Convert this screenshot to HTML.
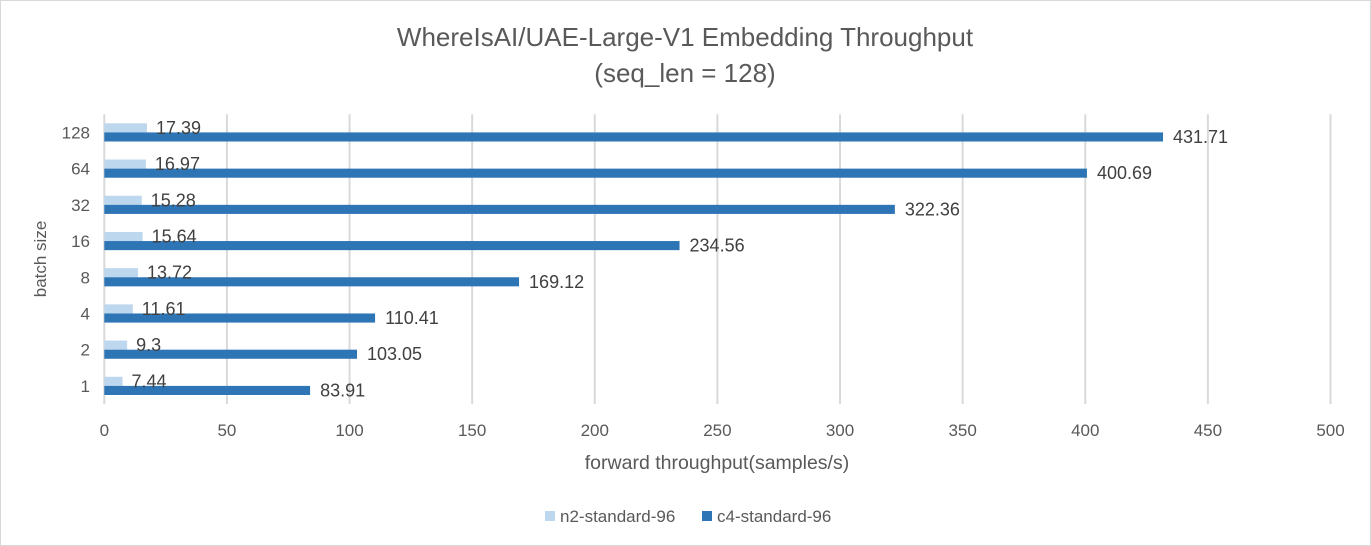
<!DOCTYPE html>
<html><head><meta charset="utf-8"><style>
html,body{margin:0;padding:0;background:#fff}
svg{display:block;font-family:"Liberation Sans",Calibri,sans-serif}
</style></head><body>
<svg id="chart" width="1371" height="546" xmlns="http://www.w3.org/2000/svg">
<rect x="0.5" y="0.5" width="1370" height="545" fill="#fff" stroke="#d9d9d9"/>
<text x="685" y="46" text-anchor="middle" font-size="26" fill="#595959">WhereIsAI/UAE-Large-V1 Embedding Throughput</text>
<text x="685" y="82" text-anchor="middle" font-size="26" fill="#595959">(seq_len = 128)</text>
<g id="grid"></g>
<g id="bars"></g>
<g id="labels"></g>
<text x="717" y="469" text-anchor="middle" font-size="19.5" fill="#595959">forward throughput(samples/s)</text>
<text transform="translate(46,259) rotate(-90)" text-anchor="middle" font-size="17" fill="#595959">batch size</text>
<g>
<rect x="545" y="511" width="10" height="10" fill="#bdd7ee"/>
<text x="560" y="522" font-size="17" fill="#595959">n2-standard-96</text>
<rect x="702" y="511" width="10" height="10" fill="#2e75b6"/>
<text x="717" y="522" font-size="17" fill="#595959">c4-standard-96</text>
</g>
</svg>
<script>
const categories=["1","2","4","8","16","32","64","128"];
const n2Values=[7.44,9.3,11.61,13.72,15.64,15.28,16.97,17.39];
const c4Values=[83.91,103.05,110.41,169.12,234.56,322.36,400.69,431.71];
const xTicks=[0,50,100,150,200,250,300,350,400,450,500];
const NS="http://www.w3.org/2000/svg";
const x0=104.3,x1=1330.5,yTop=114.3,yBottom=404,xMax=500;
const xs=v=>x0+(v/xMax)*(x1-x0);
const band=(yBottom-yTop)/categories.length;
const bandTop=i=>yTop+(categories.length-1-i)*band;
function mk(tag,attrs,parent){const e=document.createElementNS(NS,tag);for(const k in attrs)e.setAttribute(k,attrs[k]);parent.appendChild(e);return e;}
const grid=document.getElementById('grid'),bars=document.getElementById('bars'),labels=document.getElementById('labels');
xTicks.forEach(t=>{
 const l=mk('line',{x1:xs(t),x2:xs(t),y1:yTop,y2:yBottom,stroke:'#d9d9d9','stroke-width':2},grid);
 
 
 const tx=mk('text',{x:xs(t),y:436,'text-anchor':'middle','font-size':17,fill:'#595959'},grid);
 tx.textContent=t;
 
 
});
const bh=9.1;
categories.forEach((c,i)=>{
 const bt=bandTop(i),cy=bt+band/2;
 const yl=mk('text',{x:90,y:cy+6,'text-anchor':'end','font-size':17,fill:'#595959'},labels);
 yl.textContent=c;
 
 
 const r1=mk('rect',{x:x0,y:cy-bh,width:xs(n2Values[i])-x0,height:bh,fill:'#bdd7ee'},bars);
 
 
 const r2=mk('rect',{x:x0,y:cy,width:xs(c4Values[i])-x0,height:bh,fill:'#2e75b6'},bars);
 
 
 const t1=mk('text',{x:xs(n2Values[i])+9,y:cy-bh/2+6,'font-size':18,fill:'#404040'},labels);
 t1.textContent=n2Values[i];
 
 
 const t2=mk('text',{x:xs(c4Values[i])+10,y:cy+bh/2+6,'font-size':18,fill:'#404040'},labels);
 t2.textContent=c4Values[i];
 
 
});
</script>
</body></html>
